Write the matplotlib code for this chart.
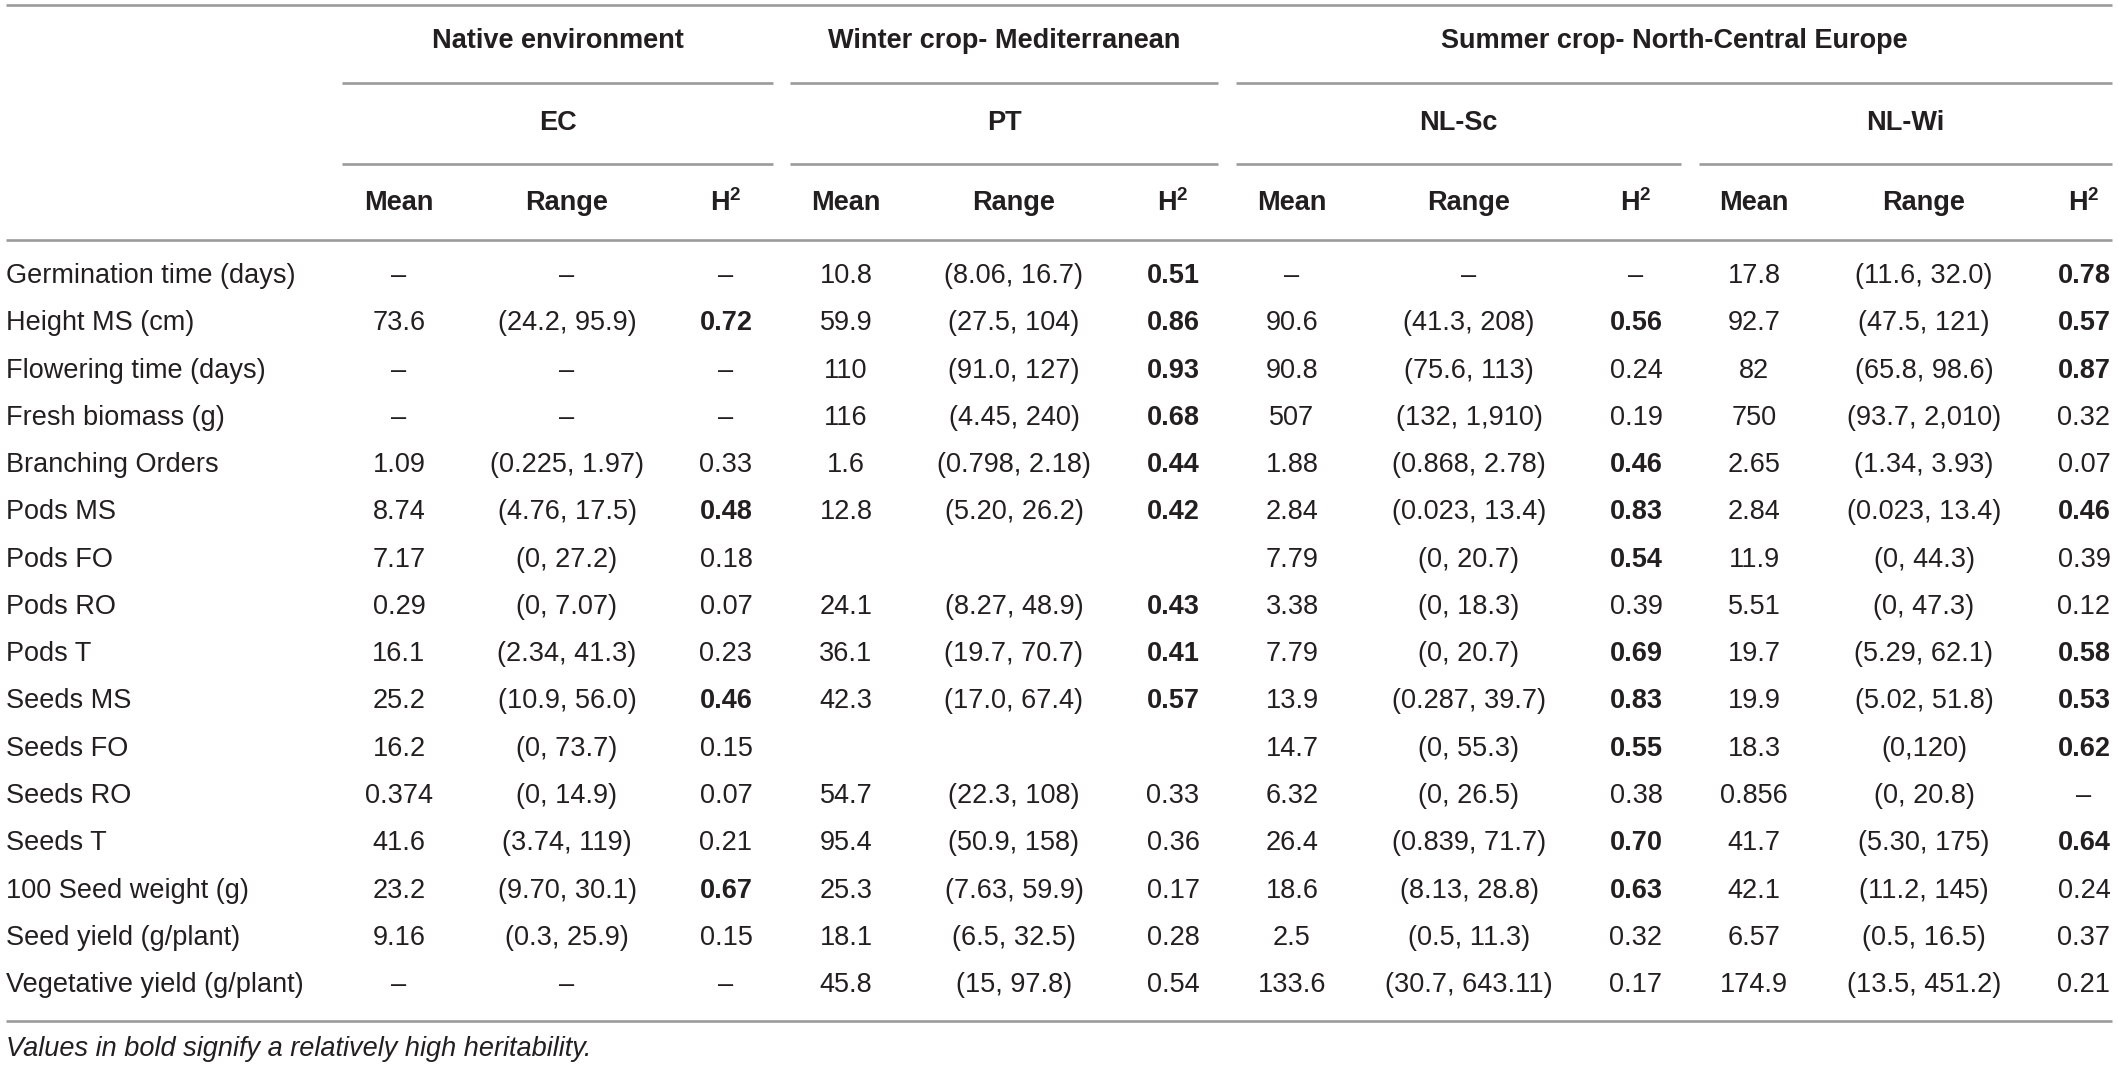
import matplotlib
matplotlib.use("Agg")
import matplotlib.pyplot as plt

plt.rcParams['font.family'] = ['Liberation Sans', 'DejaVu Sans']
plt.rcParams['mathtext.fontset'] = 'custom'
plt.rcParams['mathtext.rm'] = 'Liberation Sans'
plt.rcParams['mathtext.bf'] = 'Liberation Sans:bold'

# table content
groups = ["Native environment", "Winter crop- Mediterranean", "Summer crop- North-Central Europe"]
sites = ["EC", "PT", "NL-Sc", "NL-Wi"]
stats = ["Mean", "Range", "H2"]

traits = ["Germination time (days)", "Height MS (cm)", "Flowering time (days)",
          "Fresh biomass (g)", "Branching Orders", "Pods MS", "Pods FO", "Pods RO",
          "Pods T", "Seeds MS", "Seeds FO", "Seeds RO", "Seeds T",
          "100 Seed weight (g)", "Seed yield (g/plant)", "Vegetative yield (g/plant)"]

D = "\u2013"
ec_mean = [D, "73.6", D, D, "1.09", "8.74", "7.17", "0.29", "16.1", "25.2", "16.2", "0.374", "41.6", "23.2", "9.16", D]
ec_range = [D, "(24.2, 95.9)", D, D, "(0.225, 1.97)", "(4.76, 17.5)", "(0, 27.2)", "(0, 7.07)",
            "(2.34, 41.3)", "(10.9, 56.0)", "(0, 73.7)", "(0, 14.9)", "(3.74, 119)",
            "(9.70, 30.1)", "(0.3, 25.9)", D]
ec_h2 = [D, "0.72", D, D, "0.33", "0.48", "0.18", "0.07", "0.23", "0.46", "0.15", "0.07", "0.21", "0.67", "0.15", D]

pt_mean = ["10.8", "59.9", "110", "116", "1.6", "12.8", "", "24.1", "36.1", "42.3", "", "54.7", "95.4", "25.3", "18.1", "45.8"]
pt_range = ["(8.06, 16.7)", "(27.5, 104)", "(91.0, 127)", "(4.45, 240)", "(0.798, 2.18)",
            "(5.20, 26.2)", "", "(8.27, 48.9)", "(19.7, 70.7)", "(17.0, 67.4)", "",
            "(22.3, 108)", "(50.9, 158)", "(7.63, 59.9)", "(6.5, 32.5)", "(15, 97.8)"]
pt_h2 = ["0.51", "0.86", "0.93", "0.68", "0.44", "0.42", "", "0.43", "0.41", "0.57", "", "0.33", "0.36", "0.17", "0.28", "0.54"]

sc_mean = [D, "90.6", "90.8", "507", "1.88", "2.84", "7.79", "3.38", "7.79", "13.9", "14.7", "6.32", "26.4", "18.6", "2.5", "133.6"]
sc_range = [D, "(41.3, 208)", "(75.6, 113)", "(132, 1,910)", "(0.868, 2.78)", "(0.023, 13.4)",
            "(0, 20.7)", "(0, 18.3)", "(0, 20.7)", "(0.287, 39.7)", "(0, 55.3)", "(0, 26.5)",
            "(0.839, 71.7)", "(8.13, 28.8)", "(0.5, 11.3)", "(30.7, 643.11)"]
sc_h2 = [D, "0.56", "0.24", "0.19", "0.46", "0.83", "0.54", "0.39", "0.69", "0.83", "0.55", "0.38", "0.70", "0.63", "0.32", "0.17"]

wi_mean = ["17.8", "92.7", "82", "750", "2.65", "2.84", "11.9", "5.51", "19.7", "19.9", "18.3", "0.856", "41.7", "42.1", "6.57", "174.9"]
wi_range = ["(11.6, 32.0)", "(47.5, 121)", "(65.8, 98.6)", "(93.7, 2,010)", "(1.34, 3.93)",
            "(0.023, 13.4)", "(0, 44.3)", "(0, 47.3)", "(5.29, 62.1)", "(5.02, 51.8)",
            "(0,120)", "(0, 20.8)", "(5.30, 175)", "(11.2, 145)", "(0.5, 16.5)", "(13.5, 451.2)"]
wi_h2 = ["0.78", "0.57", "0.87", "0.32", "0.07", "0.46", "0.39", "0.12", "0.58", "0.53", "0.62", D, "0.64", "0.24", "0.37", "0.21"]

# bold = relatively high heritability
bold_ec = [0, 1, 0, 0, 0, 1, 0, 0, 0, 1, 0, 0, 0, 1, 0, 0]
bold_pt = [1, 1, 1, 1, 1, 1, 0, 1, 1, 1, 0, 0, 0, 0, 0, 0]
bold_sc = [0, 1, 0, 0, 1, 1, 1, 0, 1, 1, 1, 0, 1, 1, 0, 0]
bold_wi = [1, 1, 1, 0, 0, 1, 0, 0, 1, 1, 1, 0, 1, 0, 0, 0]

footnote = "Values in bold signify a relatively high heritability."

W, H = 2118, 1069
fig = plt.figure(figsize=(W / 100, H / 100), dpi=100)
ax = fig.add_axes([0, 0, 1, 1])
ax.set_xlim(0, W)
ax.set_ylim(H, 0)
ax.axis("off")

txt = "#231f20"
lc = "#9b9b9b"
lw = 1.9
fs = 19.5

# layout (pixels)
site_spans = [(342, 773), (790, 1218), (1236, 1681), (1699, 2112)]
group_spans = [(342, 773), (790, 1218), (1236, 2112)]
col_x = [(399, 567, 726), (846, 1014, 1173), (1292, 1469, 1636), (1754, 1924, 2084)]
y_group, y_site, y_head = 41, 123, 203
y0, dy = 276, 47.27

def hline(y, x0=6, x1=2112):
    ax.plot([x0, x1], [y, y], color=lc, lw=lw, solid_capstyle="butt")

hline(5)
hline(240)
hline(1021)
for a, b in group_spans:
    hline(83, a, b)
for a, b in site_spans:
    hline(164, a, b)

for g, (a, b) in zip(groups, group_spans):
    ax.text((a + b) / 2, y_group, g, ha="center", va="center", fontsize=fs, fontweight="bold", color=txt)
for s, (a, b) in zip(sites, site_spans):
    ax.text((a + b) / 2, y_site, s, ha="center", va="center", fontsize=fs, fontweight="bold", color=txt)
for cols in col_x:
    for st, x in zip(stats, cols):
        label = r"$\mathbf{H^2}$" if st == "H2" else st
        ax.text(x, y_head, label, ha="center", va="center", fontsize=fs, fontweight="bold", color=txt)

site_data = [(ec_mean, ec_range, ec_h2, bold_ec), (pt_mean, pt_range, pt_h2, bold_pt),
             (sc_mean, sc_range, sc_h2, bold_sc), (wi_mean, wi_range, wi_h2, bold_wi)]

for i, t in enumerate(traits):
    y = y0 + i * dy
    ax.text(6, y, t, ha="left", va="center", fontsize=fs, color=txt)
    for (m, r, h, b), cols in zip(site_data, col_x):
        ax.text(cols[0], y, m[i], ha="center", va="center", fontsize=fs, color=txt)
        ax.text(cols[1], y, r[i], ha="center", va="center", fontsize=fs, color=txt)
        ax.text(cols[2], y, h[i], ha="center", va="center", fontsize=fs, color=txt,
                fontweight="bold" if b[i] else "normal")

ax.text(6, 1049, footnote, ha="left", va="center", fontsize=fs, fontstyle="italic", color=txt)

fig.savefig("out.png", dpi=100)
